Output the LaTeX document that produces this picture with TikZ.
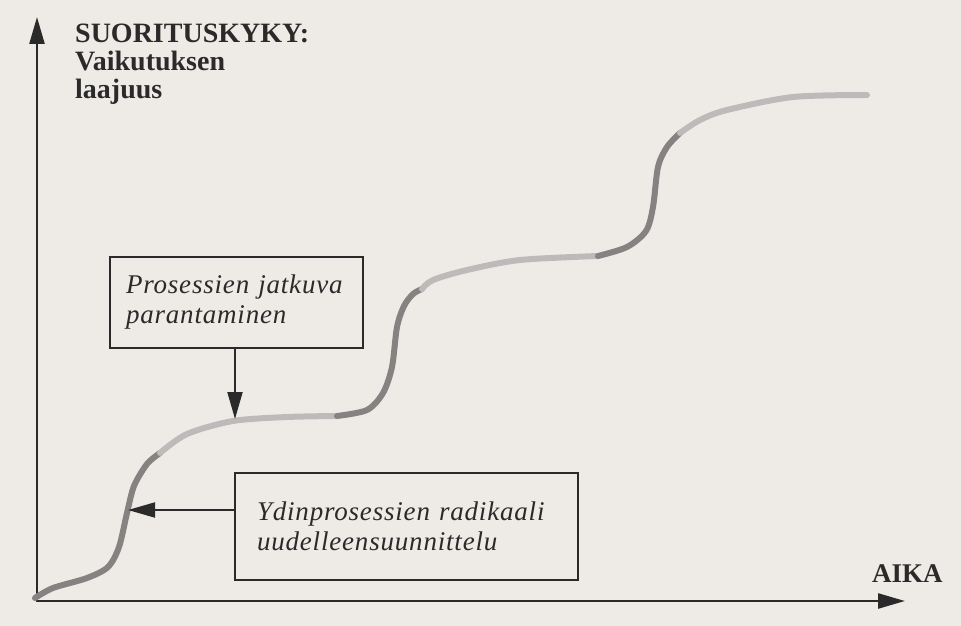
\documentclass[tikz,border=0pt]{standalone}
\usepackage{fontspec}
\setmainfont{Liberation Serif}
\usetikzlibrary{arrows.meta,positioning}
\definecolor{paper}{HTML}{EEEBE7}
\definecolor{ink}{HTML}{2B2A2A}
\definecolor{lightdots}{HTML}{BDBBB9}
\definecolor{darkdots}{HTML}{858382}

\begin{document}
\begin{tikzpicture}[x=1pt,y=-1pt,>={Triangle[length=27pt,width=15pt]},
  box/.style={draw=ink,line width=2pt,align=left,text=ink,inner xsep=22pt,inner ysep=0pt,
    font=\fontsize{27}{30}\selectfont\itshape\addfontfeatures{LetterSpace=3}},
  label/.style={text=ink,inner sep=0pt,align=left,font=\fontsize{28}{28}\selectfont\bfseries},
  light/.style={lightdots,line width=6pt,line cap=round},
  dark/.style={darkdots,line width=6pt,line cap=round}]
\fill[paper] (0,0) rectangle (961,626);
\node[label,anchor=north west] (yname) at (75,24) {SUORITUSKYKY:\\Vaikutuksen\\laajuus};
\node[label,anchor=base west,font=\fontsize{27}{28}\selectfont\bfseries] (tname) at (872,582) {AIKA};
\node[box,text width=221pt,inner xsep=16pt,minimum height=91pt] (cont) at (236.5,302.5) {Prosessien jatkuva\\parantaminen};
\node[box,text width=299pt,minimum height=107pt] (radical) at (406.5,526.5) {Ydinprosessien radikaali\\uudelleensuunnittelu};
\coordinate (ytop) at (37,17);\coordinate (xend) at (905,601);
\draw[<->,ink,line width=2.5pt] (ytop) |- (xend);
% staircase curve
\draw[dark] plot[smooth] coordinates {(35,598) (53,588) (87,578) (108,567) (119,547) (127,513) (134,486) (147,464) (160,453)};
\draw[light] plot[smooth] coordinates {(160,453) (187,434) (233,421) (287,417) (337,416)};
\draw[dark] plot[smooth] coordinates {(337,416) (367,410) (383,393) (392,367) (397,327) (404,306) (413,294) (422,289)};
\draw[light] plot[smooth] coordinates {(422,289) (433,280) (467,270) (520,260) (598,256)};
\draw[dark] plot[smooth] coordinates {(598,256) (627,247) (646,231) (653,207) (658,167) (667,147) (680,133)};
\draw[light] plot[smooth] coordinates {(680,133) (700,120) (727,110) (793,97) (867,95)};
\coordinate (hit1) at (235,419);\coordinate (hit2) at (128,510);
\draw[->,ink,line width=2pt] (cont.south -| hit1) -- (hit1);
\draw[->,ink,line width=2pt] (radical.west |- hit2) -- (hit2);
\end{tikzpicture}
\end{document}
